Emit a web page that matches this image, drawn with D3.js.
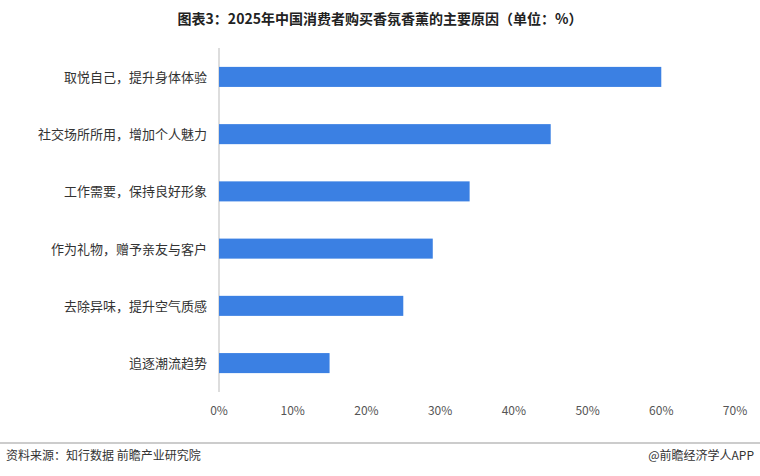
<!DOCTYPE html>
<html><head><meta charset="utf-8">
<script src="https://cdn.jsdelivr.net/npm/d3@7"></script>
<style>body{margin:0;background:#fff;font-family:"Noto Sans CJK SC",sans-serif;}</style>
</head><body><div id="vis"></div>
<script>
var width = 760, height = 476

var categories = ["取悦自己，提升身体体验", "社交场所所用，增加个人魅力", "工作需要，保持良好形象", "作为礼物，赠予亲友与客户", "去除异味，提升空气质感", "追逐潮流趋势"]
var values = [60, 45, 34, 29, 25, 15]
var ticks = [0, 10, 20, 30, 40, 50, 60, 70]

var svg = d3.select("#vis").append("svg")
  .attr("width", width).attr("height", height)

svg.append("text")
  .attr("x", 380).attr("y", 24)
  .attr("text-anchor", "middle")
  .style("font-size", "14px").style("font-weight", "bold").attr("fill", "#222")
  .text("图表3：2025年中国消费者购买香氛香薰的主要原因（单位：%）")

var x = d3.scaleLinear().domain([0, 70]).range([219, 735])
var y = d3.scaleBand().domain(categories).range([48, 392]).paddingInner(0.65).paddingOuter(0.33)

svg.append("line").attr("x1", 219).attr("x2", 219).attr("y1", 48).attr("y2", 392)
  .attr("stroke", "#bbb")

svg.selectAll("rect.bar").data(values).enter().append("rect")
  .attr("class", "bar")
  .attr("x", x(0))
  .attr("y", (d, i) => y(categories[i]))
  .attr("width", d => x(d) - x(0))
  .attr("height", y.bandwidth())
  .attr("fill", "#3b80e3")

svg.selectAll("text.cat").data(categories).enter().append("text")
  .attr("x", 207).attr("y", d => y(d) + y.bandwidth() / 2 + 5)
  .attr("text-anchor", "end")
  .style("font-size", "13px").attr("fill", "#333")
  .text(d => d)

svg.selectAll("text.tick").data(ticks).enter().append("text")
  .attr("x", d => x(d)).attr("y", 415)
  .attr("text-anchor", "middle")
  .style("font-size", "12px").attr("fill", "#555")
  .text(d => d + "%")

svg.append("line").attr("x1", 0).attr("x2", width).attr("y1", 443).attr("y2", 443)
  .attr("stroke", "#999")

svg.append("text").attr("x", 6).attr("y", 460)
  .style("font-size", "12px").attr("fill", "#333")
  .text("资料来源：知行数据  前瞻产业研究院")

svg.append("text").attr("x", 754).attr("y", 460).attr("text-anchor", "end")
  .style("font-size", "12px").attr("fill", "#333")
  .text("@前瞻经济学人APP")
</script></body></html>
